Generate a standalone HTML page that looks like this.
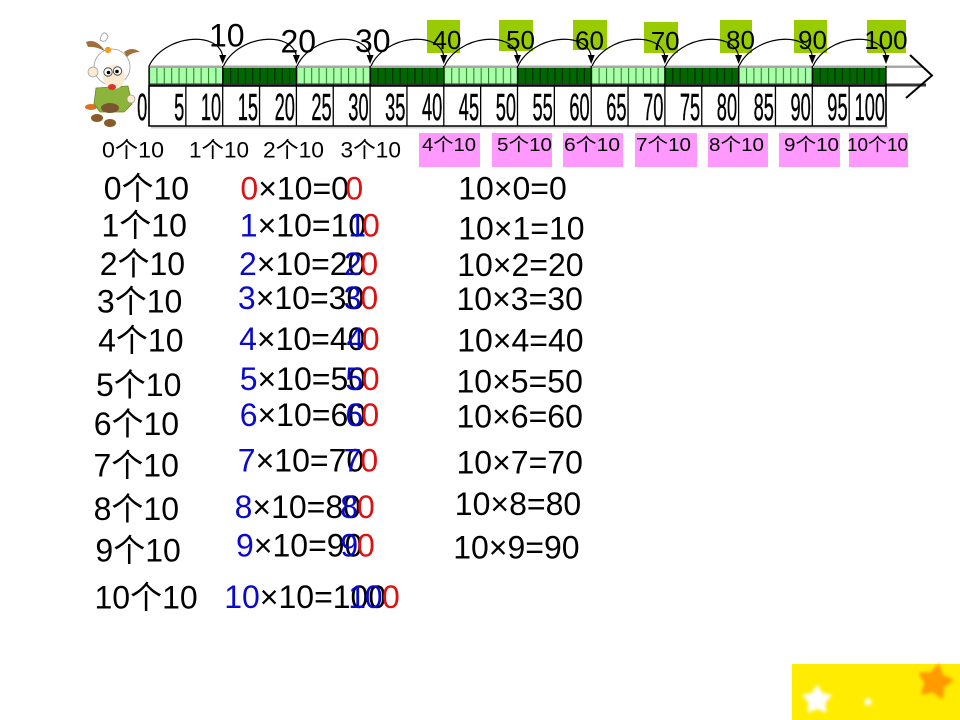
<!DOCTYPE html>
<html><head><meta charset="utf-8"><style>
html,body{margin:0;padding:0;background:#fff;}
svg{display:block;}
text{font-family:"Liberation Sans","Noto Sans CJK SC",sans-serif;}
</style></head><body>
<svg width="960" height="720" viewBox="0 0 960 720" xmlns="http://www.w3.org/2000/svg">
<defs>
<pattern id="pl" x="149" y="0" width="7.37" height="200" patternUnits="userSpaceOnUse"><rect width="7.37" height="200" fill="#aaffaa"/><rect width="1.1" height="200" fill="#2a8a2a"/></pattern>
<pattern id="pd" x="149" y="0" width="7.37" height="200" patternUnits="userSpaceOnUse"><rect width="7.37" height="200" fill="#006600"/><rect width="1.1" height="200" fill="#002400"/></pattern>
<filter id="bl" x="-30%" y="-30%" width="160%" height="160%"><feGaussianBlur stdDeviation="1.6"/></filter>
<polygon id="star" points="0,-1 0.323,-0.445 0.951,-0.309 0.523,0.170 0.588,0.809 0,0.55 -0.588,0.809 -0.523,0.170 -0.951,-0.309 -0.323,-0.445"/>
</defs>
<rect width="960" height="720" fill="#fff"/>

<!-- goat -->
<g>
<ellipse cx="91" cy="107" rx="6" ry="3" fill="#e07020"/>
<path d="M96,88 L128,86 L132,104 L124,112 L100,112 L94,104 Z" fill="#8cb43a" stroke="#6a8a20" stroke-width="0.8"/>
<ellipse cx="110" cy="108" rx="9" ry="5" fill="#7a5530"/>
<ellipse cx="97" cy="118" rx="6" ry="4" fill="#8b5a2b"/>
<ellipse cx="110" cy="123" rx="6" ry="4" fill="#8b5a2b"/>
<circle cx="112" cy="67" r="18" fill="#fff" stroke="#999" stroke-width="0.8"/>
<path d="M86,42 Q96,38 105,51 Q95,46 88,47 Z" fill="#a0703a"/>
<path d="M124,52 Q132,46 140,52 Q132,52 127,57 Z" fill="#a0703a"/>
<path d="M100,40 Q103,28 108,36 Q106,44 100,40 Z" fill="#fff" stroke="#999" stroke-width="0.8"/>
<circle cx="108" cy="50" r="3.2" fill="#f0a020"/>
<ellipse cx="114" cy="77" rx="11" ry="12" fill="#fbe9d0"/>
<circle cx="108" cy="72" r="4.2" fill="#fff" stroke="#333" stroke-width="0.8"/>
<circle cx="117.5" cy="71" r="4.2" fill="#fff" stroke="#333" stroke-width="0.8"/>
<circle cx="108.5" cy="72.5" r="1.8" fill="#000"/>
<circle cx="117" cy="71.5" r="1.8" fill="#000"/>
<ellipse cx="112" cy="87" rx="4" ry="3" fill="#e03030"/>
<circle cx="93" cy="72" r="5" fill="#fbe9d0" stroke="#999" stroke-width="0.7"/>
<circle cx="131" cy="99" r="4" fill="#fbe9d0" stroke="#999" stroke-width="0.7"/>
</g>

<!-- number line strip -->
<rect x="149" y="65.5" width="774" height="2.5" fill="#a8a8a8"/>
<rect x="149" y="68" width="737" height="16" fill="url(#pl)"/>
<rect x="222.7" y="68" width="73.7" height="16" fill="url(#pd)"/>
<rect x="370.1" y="68" width="73.7" height="16" fill="url(#pd)"/>
<rect x="517.5" y="68" width="73.7" height="16" fill="url(#pd)"/>
<rect x="664.9" y="68" width="73.7" height="16" fill="url(#pd)"/>
<rect x="812.3" y="68" width="73.7" height="16" fill="url(#pd)"/>
<rect x="149" y="83.5" width="777" height="3" fill="#333"/>
<polyline points="910,55 932,75.5 906,98" fill="none" stroke="#000" stroke-width="2"/>
<rect x="151" y="126.5" width="737" height="2" fill="#cfcfcf"/>
<rect x="149" y="86" width="737" height="40" fill="#fff" stroke="#000" stroke-width="1.5"/>
<g stroke="#000" stroke-width="1.3">
<line x1="185.85" y1="86" x2="185.85" y2="126"/>
<line x1="222.7" y1="66" x2="222.7" y2="126"/>
<line x1="259.55" y1="86" x2="259.55" y2="126"/>
<line x1="296.4" y1="66" x2="296.4" y2="126"/>
<line x1="333.25" y1="86" x2="333.25" y2="126"/>
<line x1="370.1" y1="66" x2="370.1" y2="126"/>
<line x1="406.95" y1="86" x2="406.95" y2="126"/>
<line x1="443.8" y1="66" x2="443.8" y2="126"/>
<line x1="480.65" y1="86" x2="480.65" y2="126"/>
<line x1="517.5" y1="66" x2="517.5" y2="126"/>
<line x1="554.35" y1="86" x2="554.35" y2="126"/>
<line x1="591.2" y1="66" x2="591.2" y2="126"/>
<line x1="628.05" y1="86" x2="628.05" y2="126"/>
<line x1="664.9" y1="66" x2="664.9" y2="126"/>
<line x1="701.75" y1="86" x2="701.75" y2="126"/>
<line x1="738.6" y1="66" x2="738.6" y2="126"/>
<line x1="775.45" y1="86" x2="775.45" y2="126"/>
<line x1="812.3" y1="66" x2="812.3" y2="126"/>
<line x1="849.15" y1="86" x2="849.15" y2="126"/>
<line x1="149" y1="66" x2="149" y2="126"/>
<line x1="886" y1="66" x2="886" y2="126"/>
</g>
<g font-size="38" fill="#000" stroke="#000" stroke-width="0.4" text-anchor="end">
<text transform="translate(147.3,120) scale(0.48,1)">0</text>
<text transform="translate(184.3,120) scale(0.48,1)">5</text>
<text transform="translate(221.2,120) scale(0.48,1)">10</text>
<text transform="translate(258,120) scale(0.48,1)">15</text>
<text transform="translate(294.9,120) scale(0.48,1)">20</text>
<text transform="translate(331.7,120) scale(0.48,1)">25</text>
<text transform="translate(368.6,120) scale(0.48,1)">30</text>
<text transform="translate(405.4,120) scale(0.48,1)">35</text>
<text transform="translate(442.3,120) scale(0.48,1)">40</text>
<text transform="translate(479.1,120) scale(0.48,1)">45</text>
<text transform="translate(516,120) scale(0.48,1)">50</text>
<text transform="translate(552.8,120) scale(0.48,1)">55</text>
<text transform="translate(589.7,120) scale(0.48,1)">60</text>
<text transform="translate(626.5,120) scale(0.48,1)">65</text>
<text transform="translate(663.4,120) scale(0.48,1)">70</text>
<text transform="translate(700.2,120) scale(0.48,1)">75</text>
<text transform="translate(737.1,120) scale(0.48,1)">80</text>
<text transform="translate(773.9,120) scale(0.48,1)">85</text>
<text transform="translate(810.8,120) scale(0.48,1)">90</text>
<text transform="translate(847.6,120) scale(0.48,1)">95</text>
<text transform="translate(885,120) scale(0.48,1)">100</text>
</g>

<!-- green boxes -->
<g fill="#99cc00">
<rect x="427" y="20" width="33" height="33"/>
<rect x="499" y="20" width="34" height="31"/>
<rect x="573" y="20" width="34" height="30"/>
<rect x="644" y="22" width="34" height="31"/>
<rect x="720" y="20" width="32" height="33"/>
<rect x="794" y="20" width="33" height="33"/>
<rect x="867" y="20" width="39" height="33"/>
</g>

<!-- arcs -->
<g fill="none" stroke="#000" stroke-width="1.2">
<path d="M149,66 C164,35 217.7,30 222.7,56"/>
<path d="M223.5,66 C237.7,35 291.4,30 296.4,56"/>
<path d="M297,66 C311.4,35 365.1,30 370.1,56"/>
<path d="M371,66 C385.1,35 438.8,30 443.8,56"/>
<path d="M444.5,66 C458.8,35 512.5,30 517.5,56"/>
<path d="M518,66 C532.5,35 586.2,30 591.2,56"/>
<path d="M592,66 C606.2,35 659.9,30 664.9,56"/>
<path d="M665.5,66 C679.9,35 733.6,30 738.6,56"/>
<path d="M739,66 C753.6,35 807.3,30 812.3,56"/>
<path d="M813,66 C827.3,35 881,30 886,56"/>
</g>
<g fill="#000">
<polygon points="219.2,55 226.2,55 222.7,64"/>
<polygon points="292.9,55 299.9,55 296.4,64"/>
<polygon points="366.6,55 373.6,55 370.1,64"/>
<polygon points="440.3,55 447.3,55 443.8,64"/>
<polygon points="514,55 521,55 517.5,64"/>
<polygon points="587.7,55 594.7,55 591.2,64"/>
<polygon points="661.4,55 668.4,55 664.9,64"/>
<polygon points="735.1,55 742.1,55 738.6,64"/>
<polygon points="808.8,55 815.8,55 812.3,64"/>
<polygon points="882.5,55 889.5,55 886,64"/>
</g>

<!-- top labels -->
<g fill="#000">
<text x="209" y="46.7" font-size="32">10</text>
<text x="280.5" y="52.7" font-size="32">20</text>
<text x="355" y="52" font-size="32">30</text>
<g font-size="26">
<text x="432.5" y="49">40</text>
<text x="506" y="49">50</text>
<text x="575" y="49.3">60</text>
<text x="650.7" y="50">70</text>
<text x="726" y="49">80</text>
<text x="798" y="49">90</text>
<text x="864.2" y="49">100</text>
</g>
</g>

<!-- pink boxes -->
<g fill="#ff99ff">
<rect x="419" y="133" width="61" height="34"/>
<rect x="492" y="133" width="60" height="34"/>
<rect x="563" y="133" width="60" height="34"/>
<rect x="635" y="133" width="62" height="34"/>
<rect x="708" y="133" width="60" height="34"/>
<rect x="779" y="133" width="61" height="34"/>
<rect x="849" y="133" width="59" height="34"/>
</g>
<g fill="#000" font-size="18">
<text x="422" y="151" textLength="54" lengthAdjust="spacingAndGlyphs">4个10</text>
<text x="497" y="151" textLength="55" lengthAdjust="spacingAndGlyphs">5个10</text>
<text x="564" y="151" textLength="56" lengthAdjust="spacingAndGlyphs">6个10</text>
<text x="636" y="151" textLength="55" lengthAdjust="spacingAndGlyphs">7个10</text>
<text x="709" y="151" textLength="55" lengthAdjust="spacingAndGlyphs">8个10</text>
<text x="784" y="151" textLength="55" lengthAdjust="spacingAndGlyphs">9个10</text>
<text x="847" y="151" textLength="61" lengthAdjust="spacingAndGlyphs">10个10</text>
</g>
<g fill="#000" font-size="22">
<text x="102" y="157.7" textLength="62" lengthAdjust="spacingAndGlyphs">0个10</text>
<text x="189" y="157.7" textLength="60" lengthAdjust="spacingAndGlyphs">1个10</text>
<text x="263" y="157.7" textLength="61" lengthAdjust="spacingAndGlyphs">2个10</text>
<text x="340.5" y="157.7" textLength="60.5" lengthAdjust="spacingAndGlyphs">3个10</text>
</g>

<!-- left column -->
<g fill="#000" font-size="32">
<text x="103.7" y="199.3">0个10</text>
<text x="101.5" y="236.7">1个10</text>
<text x="99.7" y="275">2个10</text>
<text x="96.9" y="312.7">3个10</text>
<text x="98.1" y="351.7">4个10</text>
<text x="96" y="396">5个10</text>
<text x="93.7" y="435">6个10</text>
<text x="93.5" y="476.7">7个10</text>
<text x="93.6" y="520">8个10</text>
<text x="95.4" y="561.7">9个10</text>
<text x="94.5" y="608.3">10个10</text>
</g>

<!-- middle column -->
<g fill="#000" font-size="32">
<text x="240.4" y="199.3"><tspan fill="#dd1111">0</tspan>×10=0</text>
<text x="239.8" y="236.7"><tspan fill="#0a0acc">1</tspan>×10=10</text>
<text x="239" y="275"><tspan fill="#0a0acc">2</tspan>×10=20</text>
<text x="237.9" y="309"><tspan fill="#0a0acc">3</tspan>×10=30</text>
<text x="239.1" y="350"><tspan fill="#0a0acc">4</tspan>×10=40</text>
<text x="239.7" y="390"><tspan fill="#0a0acc">5</tspan>×10=50</text>
<text x="239.7" y="426"><tspan fill="#0a0acc">6</tspan>×10=60</text>
<text x="237.8" y="471.7"><tspan fill="#0a0acc">7</tspan>×10=70</text>
<text x="234.6" y="518"><tspan fill="#0a0acc">8</tspan>×10=80</text>
<text x="236" y="556.7"><tspan fill="#0a0acc">9</tspan>×10=90</text>
<text x="224.2" y="608"><tspan fill="#0a0acc">10</tspan>×10=100</text>
</g>
<g font-size="32">
<text x="345.4" y="199.3" fill="#dd1111">0</text>
<text x="348.2" y="236.7" fill="#0a0acc">1</text><text x="362" y="236.7" fill="#dd1111">0</text>
<text x="344" y="275" fill="#0a0acc">2</text><text x="360.4" y="275" fill="#dd1111">0</text>
<text x="343.6" y="309" fill="#0a0acc">3</text><text x="360.4" y="309" fill="#dd1111">0</text>
<text x="346.5" y="350" fill="#0a0acc">4</text><text x="361.7" y="350" fill="#dd1111">0</text>
<text x="345.4" y="390" fill="#0a0acc">5</text><text x="361.7" y="390" fill="#dd1111">0</text>
<text x="345.4" y="426" fill="#0a0acc">6</text><text x="361.4" y="426" fill="#dd1111">0</text>
<text x="343.5" y="471.7" fill="#0a0acc">7</text><text x="360.4" y="471.7" fill="#dd1111">0</text>
<text x="340.3" y="518" fill="#0a0acc">8</text><text x="357" y="518" fill="#dd1111">0</text>
<text x="340.4" y="556.7" fill="#0a0acc">9</text><text x="357" y="556.7" fill="#dd1111">0</text>
<text x="348.2" y="608" fill="#0a0acc">1</text><text x="364.7" y="608" fill="#0a0acc">0</text><text x="382" y="608" fill="#dd1111">0</text>
</g>

<!-- right column -->
<g fill="#000" font-size="32">
<text x="458.2" y="199.3">10×0=0</text>
<text x="458.2" y="239.3">10×1=10</text>
<text x="457.2" y="276">10×2=20</text>
<text x="456.5" y="310">10×3=30</text>
<text x="457.2" y="351.7">10×4=40</text>
<text x="456.5" y="392.7">10×5=50</text>
<text x="456.5" y="427.7">10×6=60</text>
<text x="456.5" y="473.3">10×7=70</text>
<text x="454.8" y="515">10×8=80</text>
<text x="453.2" y="558.3">10×9=90</text>
</g>

<!-- yellow decoration -->
<rect x="792" y="664" width="168" height="56" fill="#ffec00"/>
<g filter="url(#bl)">
<use href="#star" transform="translate(817,700) scale(14)" fill="#ffffff" stroke="#ffffff" stroke-width="0.15" stroke-linejoin="round"/>
<use href="#star" transform="translate(935,682) rotate(12) scale(17)" fill="#ff9a00" stroke="#ff9a00" stroke-width="0.15" stroke-linejoin="round"/>
<use href="#star" transform="translate(868,702) scale(5)" fill="#ffffff"/>
</g>
</svg>
</body></html>
